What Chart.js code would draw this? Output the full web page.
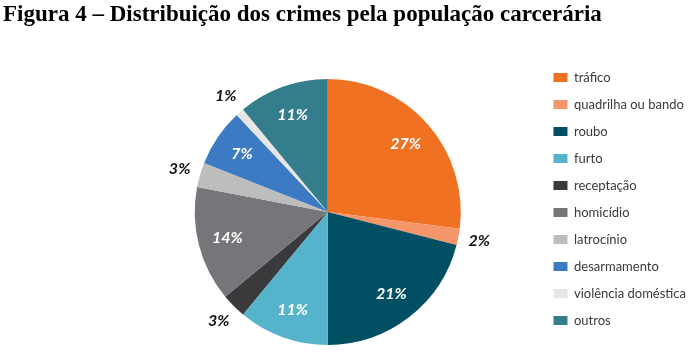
<!DOCTYPE html>
<html lang="pt">
  <head>
    <meta charset="UTF-8" />
    <title>Figura 4</title>
    <script src="https://cdn.jsdelivr.net/npm/chart.js@4.4.0/dist/chart.umd.min.js"></script>
    <style>
      body {
        margin: 0;
        background: white;
        overflow: hidden;
      }
      .title {
        position: absolute;
        top: 1px;
        left: 3px;
        font-family: "Liberation Serif", serif;
        font-weight: bold;
        font-size: 23px;
        color: black;
        z-index: 2;
      }
      .chart-container {
        position: absolute;
        top: 0;
        left: 0;
        width: 690px;
        height: 367px;
      }
    </style>
  </head>
  <body>
    <div class="title">Figura 4 – Distribuição dos crimes pela população carcerária</div>
    <div class="chart-container">
      <canvas id="myChart"></canvas>
    </div>

    <script>
      const crimes = [
        "tráfico",
        "quadrilha ou bando",
        "roubo",
        "furto",
        "receptação",
        "homicídio",
        "latrocínio",
        "desarmamento",
        "violência doméstica",
        "outros",
      ];
      const percent = [27, 2, 21, 11, 3, 14, 3, 7, 1, 11];
      const colors = [
        "#f07122",
        "#f4956a",
        "#004f63",
        "#55b4cc",
        "#3a3a3c",
        "#76767a",
        "#bdbdbd",
        "#3c7bc4",
        "#e6e6e6",
        "#347d8c",
      ];

      // percentage labels: big slices inside (white), small ones outside (black)
      const sliceLabels = {
        id: "sliceLabels",
        afterDatasetsDraw(chart) {
          const ctx = chart.ctx;
          const arcs = chart.getDatasetMeta(0).data;
          ctx.save();
          ctx.font = "italic bold 16px Lato";
          ctx.textAlign = "center";
          ctx.textBaseline = "middle";
          arcs.forEach((arc, i) => {
            const v = percent[i];
            const mid = (arc.startAngle + arc.endAngle) / 2;
            const outside = v <= 3;
            const r = arc.outerRadius * (outside ? 1.16 : 0.78);
            ctx.fillStyle = outside ? "#111" : "white";
            ctx.fillText(v + "%", arc.x + Math.cos(mid) * r, arc.y + Math.sin(mid) * r);
          });
          ctx.restore();
        },
      };

      const ctx = document.getElementById("myChart").getContext("2d");
      const myChart = new Chart(ctx, {
        type: "pie",
        data: {
          labels: crimes,
          datasets: [
            {
              data: percent,
              backgroundColor: colors,
              borderWidth: 0,
              radius: 133,
            },
          ],
        },
        options: {
          responsive: true,
          maintainAspectRatio: false,
          animation: false,
          layout: {
            padding: { left: 116, top: 57, bottom: 0, right: -6 },
          },
          plugins: {
            legend: {
              position: "right",
              align: "start",
              labels: {
                boxWidth: 14,
                boxHeight: 9,
                padding: 14,
                color: "#3a3a3a",
                font: { family: "Lato", size: 13 },
              },
            },
            tooltip: { enabled: false },
          },
        },
        plugins: [sliceLabels],
      });
    </script>
  </body>
</html>
